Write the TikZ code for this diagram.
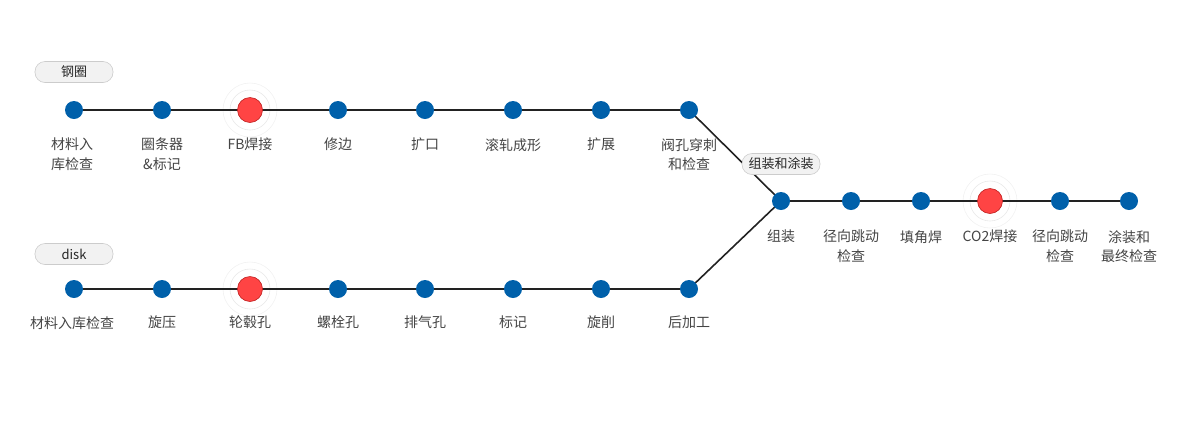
\documentclass[tikz,border=0pt]{standalone}
\usepackage{fontspec}
\setmainfont{Noto Sans CJK SC}
\definecolor{bluedot}{HTML}{0060AA}
\definecolor{reddot}{HTML}{FF4444}
\definecolor{redline}{HTML}{C02020}
\definecolor{linec}{HTML}{222222}
\definecolor{txt}{HTML}{444444}
\definecolor{pillfill}{HTML}{F2F2F2}
\definecolor{pillline}{HTML}{CCCCCC}
\definecolor{halo}{HTML}{E8E8E8}
\tikzset{
  dot/.style={circle,fill=bluedot,minimum size=18bp,inner sep=0pt},
  reddotn/.style={circle,fill=reddot,draw=redline,line width=0.6bp,minimum size=25bp,inner sep=0pt},
  lbl/.style={text=txt,font=\fontsize{14bp}{19.5bp}\selectfont,align=center,anchor=north,inner sep=0pt},
  pill/.style={rounded corners=10bp,fill=pillfill,draw=pillline,line width=0.6bp,minimum width=78bp,minimum height=21bp,inner sep=0pt,text=black!85,font=\fontsize{13bp}{14bp}\selectfont},
  conn/.style={draw=linec,line width=1.6bp},
  haloc/.style={draw=halo,line width=0.6bp}
}
\begin{document}
\begin{tikzpicture}[x=1bp,y=-1bp]
\useasboundingbox (0,0) rectangle (1200,422);
% halos
\foreach \p in {(250,110),(250,289),(990,201)}{
  \draw[haloc] \p circle (20);
  \draw[draw=halo!60,line width=0.6bp] \p circle (27);
}
% coordinates
\coordinate (t1) at (74,110); \coordinate (t2) at (162,110); \coordinate (t3) at (250,110); \coordinate (t4) at (338,110);
\coordinate (t5) at (425,110); \coordinate (t6) at (513,110); \coordinate (t7) at (601,110); \coordinate (t8) at (689,110);
\coordinate (b1) at (74,289); \coordinate (b2) at (162,289); \coordinate (b3) at (250,289); \coordinate (b4) at (338,289);
\coordinate (b5) at (425,289); \coordinate (b6) at (513,289); \coordinate (b7) at (601,289); \coordinate (b8) at (689,289);
\coordinate (r1) at (781,201); \coordinate (r2) at (851,201); \coordinate (r3) at (921,201); \coordinate (r4) at (990,201);
\coordinate (r5) at (1060,201); \coordinate (r6) at (1129,201);
% lines
\draw[conn] (t1) -- (t8) -- (r1) -- (r6);
\draw[conn] (b1) -- (b8) -- (r1);
% pill on diagonal
\node[pill] (p3) at (781,164) {组装和涂装};
\node[pill] (p1) at (74,72) {钢圈};
\node[pill] (p2) at (74,254) {disk};
% dots
\foreach \n in {t1,t2,t4,t5,t6,t7,t8,b1,b2,b4,b5,b6,b7,b8,r1,r2,r3,r5,r6}{
  \node[dot] (d\n) at (\n) {};
}
\foreach \n in {t3,b3,r4}{
  \node[reddotn] (d\n) at (\n) {};
}
% labels top
\node[lbl] (lt1) at (72,138) {材料入\\库检查};
\node[lbl] (lt2) at (162,138) {圈条器\\\&标记};
\node[lbl] (lt3) at (250,138) {FB焊接};
\node[lbl] (lt4) at (338,138) {修边};
\node[lbl] (lt5) at (425,138) {扩口};
\node[lbl] (lt6) at (513,138) {滚轧成形};
\node[lbl] (lt7) at (601,138) {扩展};
\node[lbl] (lt8) at (689,138) {阀孔穿刺\\和检查};
% labels bottom
\node[lbl] (lb1) at (72,316) {材料入库检查};
\node[lbl] (lb2) at (162,316) {旋压};
\node[lbl] (lb3) at (250,316) {轮毂孔};
\node[lbl] (lb4) at (338,316) {螺栓孔};
\node[lbl] (lb5) at (425,316) {排气孔};
\node[lbl] (lb6) at (513,316) {标记};
\node[lbl] (lb7) at (601,316) {旋削};
\node[lbl] (lb8) at (689,316) {后加工};
% labels right
\node[lbl] (lr1) at (781,230) {组装};
\node[lbl] (lr2) at (851,230) {径向跳动\\检查};
\node[lbl] (lr3) at (921,230) {填角焊};
\node[lbl] (lr4) at (990,230) {CO2焊接};
\node[lbl] (lr5) at (1060,230) {径向跳动\\检查};
\node[lbl] (lr6) at (1129,230) {涂装和\\最终检查};
\end{tikzpicture}
\end{document}
